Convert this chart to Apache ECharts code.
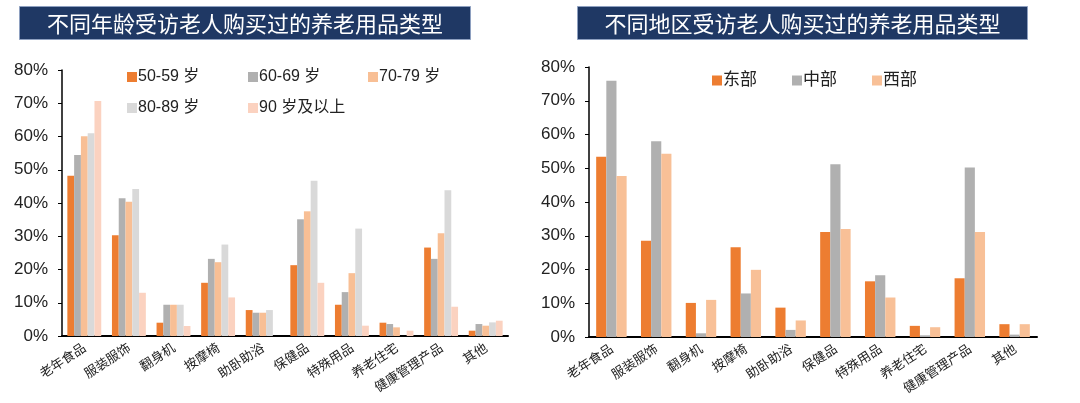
<!DOCTYPE html>
<html><head><meta charset="utf-8">
<script src="https://cdn.jsdelivr.net/npm/echarts@6/dist/echarts.min.js"></script>
<style>html,body{margin:0;padding:0;background:#fff}#c{width:1080px;height:403px}</style>
</head><body><div id="c"></div>
<script>
const categories = ['老年食品','服装服饰','翻身机','按摩椅','助卧助浴','保健品','特殊用品','养老住宅','健康管理产品','其他'];
const ageNames = ['50-59 岁','60-69 岁','70-79 岁','80-89 岁','90 岁及以上'];
const age5059 = [48.2, 30.3, 4.0, 16.0, 7.8, 21.3, 9.4, 4.0, 26.6, 1.6];
const age6069 = [54.4, 41.4, 9.4, 23.2, 7.0, 35.1, 13.2, 3.6, 23.2, 3.6];
const age7079 = [60.1, 40.4, 9.4, 22.2, 7.0, 37.5, 18.9, 2.6, 30.9, 3.1];
const age8089 = [61.0, 44.2, 9.4, 27.5, 7.8, 46.7, 32.3, 0, 43.8, 4.1];
const age90 = [70.7, 13.0, 3.0, 11.6, 0, 16.0, 3.1, 1.6, 8.8, 4.6];
const regionNames = ['东部','中部','西部'];
const east = [53.4, 28.5, 10.1, 26.6, 8.7, 31.1, 16.5, 3.3, 17.4, 3.8];
const central = [75.9, 58.0, 1.1, 12.9, 2.1, 51.2, 18.3, 0.5, 50.2, 0.7];
const west = [47.7, 54.3, 11.0, 19.9, 4.9, 32.0, 11.7, 2.9, 31.1, 3.8];
const yTicks = [0, 10, 20, 30, 40, 50, 60, 70, 80];

const ageData = [age5059, age6069, age7079, age8089, age90];
const ageColors = ['#ED7D31','#B0B0B0','#F8BF95','#D9D9D9','#FBD2C0'];
const regionData = [east, central, west];
const regionColors = ['#ED7D31','#B0B0B0','#F8C097'];

const font = 'Arial, "Liberation Sans", "Noto Sans CJK SC", sans-serif';
function xAxis(gi){
  return {type:'category', gridIndex:gi, data:categories,
    axisLine:{lineStyle:{color:'#000', width:2}}, axisTick:{show:false},
    axisLabel:{rotate:33, interval:0, fontSize:13, color:'#222', fontFamily:'"Noto Sans CJK SC", sans-serif', margin:10}};
}
function yAxis(gi){
  return {type:'value', gridIndex:gi, min:yTicks[0], max:yTicks[yTicks.length-1], interval:10,
    axisLine:{show:true, lineStyle:{color:'#000', width:1.5}},
    axisTick:{show:true, length:4, lineStyle:{color:'#000'}},
    splitLine:{show:false},
    axisLabel:{formatter:'{value}%', fontSize:17, color:'#222', fontFamily:font, margin:14}};
}
const series = [];
ageNames.forEach((n,i)=>series.push({name:n, type:'bar', xAxisIndex:0, yAxisIndex:0, data:ageData[i],
  itemStyle:{color:ageColors[i]}, barGap:'0%', barCategoryGap:'24%'}));
regionNames.forEach((n,i)=>series.push({name:n, type:'bar', xAxisIndex:1, yAxisIndex:1, data:regionData[i],
  itemStyle:{color:regionColors[i]}, barGap:'0%', barCategoryGap:'32%'}));

function leg(name, left, top, size){
  return {data:[name], left:left, top:top, itemWidth:10, itemHeight:10, itemGap:0, icon:'rect',
    textStyle:{fontSize:size, color:'#222', fontFamily:font, padding:[0,0,0,-4]}, selectedMode:false};
}
const legends = [
  leg(ageNames[0],122,64,16), leg(ageNames[1],243,64,16), leg(ageNames[2],363,64,16),
  leg(ageNames[3],122,95,16), leg(ageNames[4],243,95,16),
  leg(regionNames[0],707,67,17), leg(regionNames[1],787,67,17), leg(regionNames[2],867,67,17)
];

function titleBox(x, w, text){
  return {type:'group', left:x, top:6, children:[
    {type:'rect', shape:{x:0,y:0,width:w,height:33}, style:{fill:'#1F3864', stroke:'#8EA0C0', lineWidth:1}},
    {type:'text', x:w/2, y:17, style:{text:text, fill:'#fff', font:'22px "Noto Sans CJK SC", sans-serif', textAlign:'center', textVerticalAlign:'middle'}}
  ]};
}

const chart = echarts.init(document.getElementById('c'));
chart.setOption({
  animation:false,
  grid:[{left:62, right:572, top:70, bottom:67}, {left:589, right:43, top:67, bottom:66}],
  xAxis:[xAxis(0), xAxis(1)],
  yAxis:[yAxis(0), yAxis(1)],
  legend:legends,
  series:series,
  graphic:[titleBox(19,451,'不同年龄受访老人购买过的养老用品类型'), titleBox(577,450,'不同地区受访老人购买过的养老用品类型')]
});
</script></body></html>
